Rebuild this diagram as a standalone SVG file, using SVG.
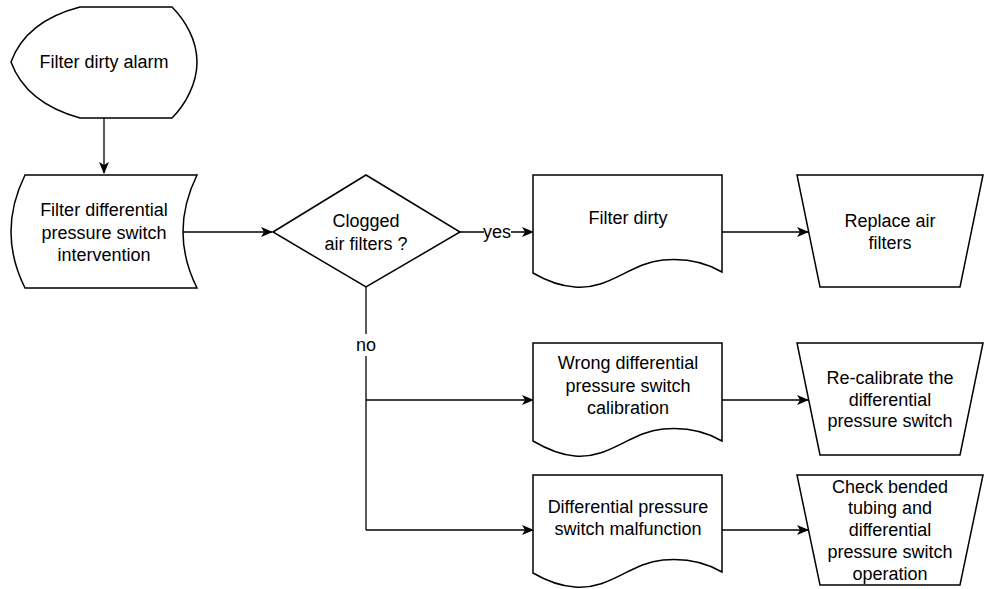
<svg xmlns="http://www.w3.org/2000/svg" width="988" height="589" viewBox="0 0 988 589">
<style>
.s{fill:#fff;stroke:#000;stroke-width:1.5;stroke-linejoin:miter}
.c{fill:none;stroke:#000;stroke-width:1.3}
text{font-family:"Liberation Sans",Arial,sans-serif;font-size:18px;fill:#000;text-anchor:middle}
</style>
<defs>
<marker id="a" viewBox="0 0 12 10" refX="11" refY="5" markerWidth="12" markerHeight="10" markerUnits="userSpaceOnUse" orient="auto">
<path d="M0,0 L12,5 L0,10 L3,5 Z" fill="#000"/>
</marker>
</defs>
<rect width="988" height="589" fill="#fff"/>
<g id="connectors">
<path class="c" d="M104,118 V173" marker-end="url(#a)"/>
<path class="c" d="M183,232 H272" marker-end="url(#a)"/>
<path class="c" d="M460,232 H533" marker-end="url(#a)"/>
<path class="c" d="M722,232 H808" marker-end="url(#a)"/>
<path class="c" d="M366,287 V530"/>
<path class="c" d="M366,400 H533" marker-end="url(#a)"/>
<path class="c" d="M366,530 H533" marker-end="url(#a)"/>
<path class="c" d="M722,400 H808" marker-end="url(#a)"/>
<path class="c" d="M722,530 H808" marker-end="url(#a)"/>
<rect x="484" y="224" width="27" height="17" fill="#fff"/>
<text x="497" y="238">yes</text>
<rect x="355" y="334" width="23" height="22" fill="#fff"/>
<text x="366" y="351">no</text>
</g>
<g id="alarm">
<path class="s" d="M11,62 Q26,21 80,7 L172,7 C185,20 197,40 197,62 C197,84 185,105 172,118 L80,118 Q26,103 11,62 Z"/>
<text x="104" y="68">Filter dirty alarm</text>
</g>
<g id="intervention">
<path class="s" d="M25,175 L197,175 Q169,232 197,288 L25,288 Q-3,232 25,175 Z"/>
<text x="104" y="216">Filter differential</text>
<text x="104" y="239">pressure switch</text>
<text x="104" y="261">intervention</text>
</g>
<g id="decision">
<path class="s" d="M273,232 L366,175 L460,232 L366,287 Z"/>
<text x="366" y="227">Clogged</text>
<text x="366" y="250">air filters ?</text>
</g>
<g id="filterDirty">
<path class="s" d="M533,175 H722 V272 C705,262 685,258 663,260 C630,263 610,290 575,287 C560,286 545,280 533,273 Z"/>
<text x="628" y="224">Filter dirty</text>
</g>
<g id="replace">
<path class="s" d="M797,175 H983 L960,287 H820 Z"/>
<text x="890" y="227">Replace air</text>
<text x="890" y="249">filters</text>
</g>
<g id="wrongCal">
<path class="s" d="M533,343 H722 V441 C705,431 685,427 663,429 C630,432 610,459 575,456 C560,455 545,448 533,441 Z"/>
<text x="628" y="369">Wrong differential</text>
<text x="628" y="392">pressure switch</text>
<text x="628" y="414">calibration</text>
</g>
<g id="recal">
<path class="s" d="M797,343 H983 L960,455 H820 Z"/>
<text x="890" y="384">Re-calibrate the</text>
<text x="890" y="406">differential</text>
<text x="890" y="427">pressure switch</text>
</g>
<g id="malfunction">
<path class="s" d="M533,475 H722 V572 C705,562 685,558 663,560 C630,563 610,590 575,587 C560,586 545,580 533,573 Z"/>
<text x="628" y="513">Differential pressure</text>
<text x="628" y="535">switch malfunction</text>
</g>
<g id="check">
<path class="s" d="M797,475 H983 L960,585 H820 Z"/>
<text x="890" y="493">Check bended</text>
<text x="890" y="514">tubing and</text>
<text x="890" y="536">differential</text>
<text x="890" y="558">pressure switch</text>
<text x="890" y="580">operation</text>
</g>
</svg>
